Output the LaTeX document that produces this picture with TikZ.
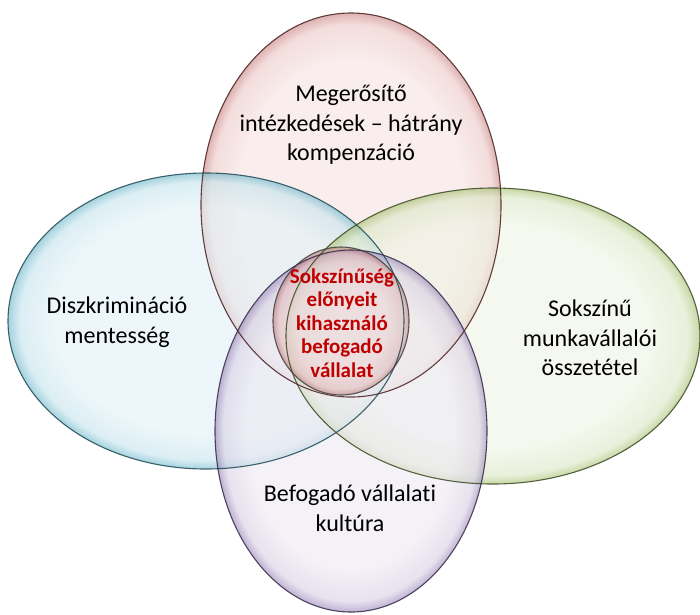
\documentclass[tikz,border=0pt]{standalone}
\usepackage{fontspec}
\setmainfont{Carlito}[Ligatures={NoCommon}]
\definecolor{redin}{HTML}{F6E2E2}
\definecolor{redmid}{HTML}{EDC9C8}
\definecolor{redrim}{HTML}{C98583}
\definecolor{redline}{HTML}{4A2020}
\definecolor{bluein}{HTML}{E3F2F7}
\definecolor{bluemid}{HTML}{C6E5EE}
\definecolor{bluerim}{HTML}{6FB8CB}
\definecolor{blueline}{HTML}{1E4A55}
\definecolor{greenin}{HTML}{EFF4E4}
\definecolor{greenmid}{HTML}{DCE8C6}
\definecolor{greenrim}{HTML}{A6C070}
\definecolor{greenline}{HTML}{3C4A22}
\definecolor{purplein}{HTML}{EEEAF3}
\definecolor{purplemid}{HTML}{D9D1E5}
\definecolor{purplerim}{HTML}{9A86B8}
\definecolor{purpleline}{HTML}{35284A}
\definecolor{ctrin}{HTML}{EDD2D2}
\definecolor{ctrmid}{HTML}{E2B6B5}
\definecolor{ctrrim}{HTML}{B86C6A}
\definecolor{ctrtext}{HTML}{C00000}
\pgfdeclareradialshading{redsh}{\pgfpoint{0bp}{0bp}}{color(0bp)=(redin); color(19bp)=(redin); color(23.5bp)=(redmid); color(25bp)=(redrim); color(50bp)=(redrim)}
\pgfdeclareradialshading{bluesh}{\pgfpoint{0bp}{0bp}}{color(0bp)=(bluein); color(19bp)=(bluein); color(23.5bp)=(bluemid); color(25bp)=(bluerim); color(50bp)=(bluerim)}
\pgfdeclareradialshading{greensh}{\pgfpoint{0bp}{0bp}}{color(0bp)=(greenin); color(19bp)=(greenin); color(23.5bp)=(greenmid); color(25bp)=(greenrim); color(50bp)=(greenrim)}
\pgfdeclareradialshading{purplesh}{\pgfpoint{0bp}{0bp}}{color(0bp)=(purplein); color(19bp)=(purplein); color(23.5bp)=(purplemid); color(25bp)=(purplerim); color(50bp)=(purplerim)}
\pgfdeclareradialshading{ctrsh}{\pgfpoint{0bp}{0bp}}{color(0bp)=(ctrin); color(17bp)=(ctrin); color(23bp)=(ctrmid); color(25bp)=(ctrrim); color(50bp)=(ctrrim)}
\tikzset{
  blob/.style={fill opacity=0.62},
  rim/.style={line width=1.1pt, draw opacity=0.85},
  lbl/.style={align=center, text=black, font=\fontsize{24}{29.5}\selectfont},
  ctrlbl/.style={align=center, text=ctrtext, font=\bfseries\fontsize{21}{23.5}\selectfont}
}
\begin{document}
\begin{tikzpicture}[x=1pt,y=1pt]
\useasboundingbox (0,0) rectangle (700,-614);
\fill[white] (0,0) rectangle (700,-614);
% fills
\shade[blob, shading=redsh] (351,-205) ellipse [x radius=150, y radius=192];
\shade[blob, shading=bluesh] (206,-321) ellipse [x radius=198, y radius=148];
\shade[blob, shading=greensh] (493,-336) ellipse [x radius=207, y radius=148];
\shade[blob, shading=purplesh] (351,-431) ellipse [x radius=136, y radius=181];
\shade[fill opacity=0.55, shading=ctrsh] (341,-321) ellipse [x radius=68, y radius=74];
% outlines
\draw[rim, redline] (351,-205) ellipse [x radius=150, y radius=192];
\draw[rim, blueline] (206,-321) ellipse [x radius=198, y radius=148];
\draw[rim, greenline] (493,-336) ellipse [x radius=207, y radius=148];
\draw[rim, purpleline] (351,-431) ellipse [x radius=136, y radius=181];
\draw[rim, black!75] (341,-321) ellipse [x radius=68, y radius=74];
% labels
\node[lbl] (top) at (351,-125) {Megerősítő\\intézkedések – hátrány\\kompenzáció};
\node[lbl] (left) at (117,-322) {Diszkrimináció\\mentesség};
\node[lbl] (right) at (590,-338) {Sokszínű\\munkavállalói\\összetétel};
\node[lbl] (bottom) at (350,-508) {Befogadó vállalati\\kultúra};
\node[ctrlbl] (center) at (342,-323) {Sokszínűség\\előnyeit\\kihasználó\\befogadó\\vállalat};
\end{tikzpicture}
\end{document}
